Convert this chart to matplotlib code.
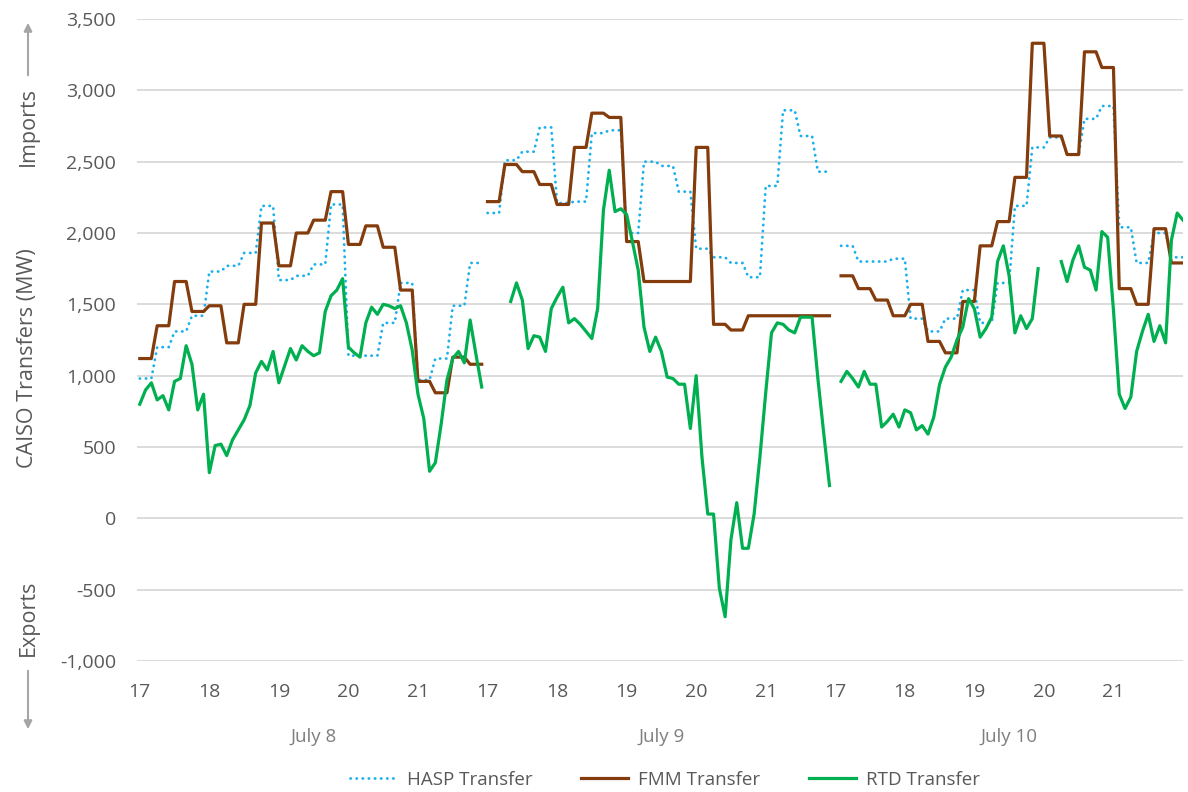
import numpy as np
import matplotlib
matplotlib.use("Agg")
import matplotlib.pyplot as plt
from matplotlib.transforms import blended_transform_factory

plt.rcParams["font.family"] = ["Open Sans", "DejaVu Sans"]

nan = np.nan
days = ["July 8", "July 9", "July 10"]
hours = [17, 18, 19, 20, 21]
day_start = [0, 0, 1]   # first 5-min slot (after 17:00) that has data

# HASP and FMM: 15-minute values (20 per day)
hasp_jul8 = [980, 1200, 1310, 1420, 1730, 1770, 1860, 2190, 1670, 1700,
             1780, 2200, 1140, 1140, 1370, 1650, 970, 1120, 1490, 1790]
hasp_jul9 = [2140, 2510, 2570, 2740, 2210, 2220, 2700, 2720, 2000, 2500,
             2470, 2290, 1890, 1830, 1790, 1690, 2330, 2860, 2680, 2430]
hasp_jul10 = [1910, 1800, 1800, 1820, 1400, 1310, 1400, 1600, 1370, 1650,
              2190, 2600, 2670, 2550, 2800, 2890, 2040, 1790, 2000, 1830]

fmm_jul8 = [1120, 1350, 1660, 1450, 1490, 1230, 1500, 2070, 1770, 2000,
            2090, 2290, 1920, 2050, 1900, 1600, 960, 880, 1130, 1080]
fmm_jul9 = [2220, 2480, 2430, 2340, 2200, 2600, 2840, 2810, 1940, 1660,
            1660, 1660, 2600, 1360, 1320, 1420, 1420, 1420, 1420, 1420]
fmm_jul10 = [1700, 1610, 1530, 1420, 1500, 1240, 1160, 1520, 1910, 2080,
             2390, 3330, 2680, 2550, 3270, 3160, 1610, 1500, 2030, 1790]

# RTD: 5-minute values (60 per day)
rtd_jul8 = [800, 900, 950, 830, 860, 760, 960, 980, 1210, 1080,
            760, 870, 320, 510, 520, 440, 550, 620, 690, 790,
            1020, 1100, 1040, 1170, 950, 1070, 1190, 1110, 1210, 1170,
            1140, 1160, 1450, 1560, 1600, 1680, 1200, 1160, 1130, 1370,
            1480, 1430, 1500, 1490, 1470, 1490, 1370, 1180, 870, 700,
            330, 390, 660, 970, 1120, 1170, 1090, 1390, 1150, 920]
rtd_jul9 = [nan, nan, nan, nan, 1520, 1650, 1530, 1190, 1280, 1270,
            1170, 1470, 1550, 1620, 1370, 1400, 1360, 1310, 1260, 1470,
            2160, 2440, 2150, 2170, 2130, 1940, 1740, 1340, 1170, 1270,
            1170, 990, 980, 940, 940, 630, 1000, 430, 30, 30,
            -490, -690, -150, 110, -210, -210, 30, 430, 880, 1300,
            1370, 1360, 1320, 1300, 1410, 1410, 1410, 980, 600, 230]
rtd_jul10 = [960, 1030, 980, 920, 1030, 940, 940, 640, 680, 730,
             640, 760, 740, 620, 650, 590, 710, 940, 1060, 1130,
             1250, 1340, 1540, 1470, 1270, 1330, 1410, 1800, 1910, 1700,
             1300, 1420, 1330, 1400, 1750, nan, nan, nan, 1800, 1660,
             1810, 1910, 1760, 1740, 1600, 2010, 1970, 1460, 870, 770,
             850, 1170, 1310, 1430, 1240, 1350, 1230, 1950, 2140, 2090]

hasp = [hasp_jul8, hasp_jul9, hasp_jul10]
fmm = [fmm_jul8, fmm_jul9, fmm_jul10]
rtd = [rtd_jul8, rtd_jul9, rtd_jul10]

c_hasp, c_fmm, c_rtd = "#19B0EC", "#843C0C", "#00B050"
txt = "#595959"

fig = plt.figure(figsize=(11.88, 7.92), dpi=100)
ax = fig.add_axes([137/1188, 1-661/792, (1183-137)/1188, (661-19)/792])

for d in range(3):
    s = day_start[d]
    h = np.repeat(hasp[d], 3)
    f = np.repeat(fmm[d], 3)
    r = np.array(rtd[d], dtype=float)
    x = 5*d + (s + np.arange(60))/12
    lh, = ax.plot(x, h, color=c_hasp, lw=2.0, linestyle=(0, (0.1, 2.1)),
                  dash_capstyle="round", zorder=3)
    lf, = ax.plot(x, f, color=c_fmm, lw=2.3, zorder=4)
    lr, = ax.plot(x, r, color=c_rtd, lw=2.3, zorder=5)

ax.set_ylim(-1000, 3500)
ax.set_xlim(-0.04, 15.0)
ax.set_yticks(range(-1000, 3501, 500))
ax.set_yticklabels([f"{v:,}" for v in range(-1000, 3501, 500)])
ax.yaxis.grid(True, color="#D9D9D9", lw=1.3)
ax.set_axisbelow(True)
for sp in ax.spines.values():
    sp.set_visible(False)

xt = [5*d + (hh - 17) for d in range(3) for hh in hours]
ax.set_xticks(xt)
ax.set_xticklabels([str(hh) for d in range(3) for hh in hours])
ax.tick_params(axis="x", length=0, pad=16, labelsize=14, labelcolor=txt)
ax.tick_params(axis="y", length=0, pad=15, labelsize=14, labelcolor=txt)

tr = blended_transform_factory(ax.transData, fig.transFigure)
for d, name in enumerate(days):
    ax.text(5*d + 2.5, 1-737/792, name, transform=tr, ha="center", va="center",
            fontsize=13.5, color="#7F7F7F")

# y-axis title with import / export arrows
fig.text(28/1188, 1-358/792, "CAISO Transfers (MW)", rotation=90, ha="center",
         va="center", fontsize=15.5, color=txt)
fig.text(28/1188, 1-127/792, "Imports", rotation=90, ha="center", va="center",
         fontsize=15.5, color=txt)
fig.text(28/1188, 1-618/792, "Exports", rotation=90, ha="center", va="center",
         fontsize=15.5, color=txt)
arr = dict(arrowstyle="-|>", color="#A6A6A6", lw=1.5, mutation_scale=12)
ax.annotate("", xy=(28, 792-20), xytext=(28, 792-78), xycoords="figure pixels",
            textcoords="figure pixels", arrowprops=arr, annotation_clip=False)
ax.annotate("", xy=(28, 792-732), xytext=(28, 792-668), xycoords="figure pixels",
            textcoords="figure pixels", arrowprops=arr, annotation_clip=False)

fig.legend([lh, lf, lr], ["HASP Transfer", "FMM Transfer", "RTD Transfer"],
           loc="center", bbox_to_anchor=(665/1188, 1-780/792), ncol=3,
           frameon=False, handlelength=2.5, handletextpad=0.55,
           columnspacing=2.6, fontsize=13.5, labelcolor=txt)

fig.savefig("out.png", dpi=100)
